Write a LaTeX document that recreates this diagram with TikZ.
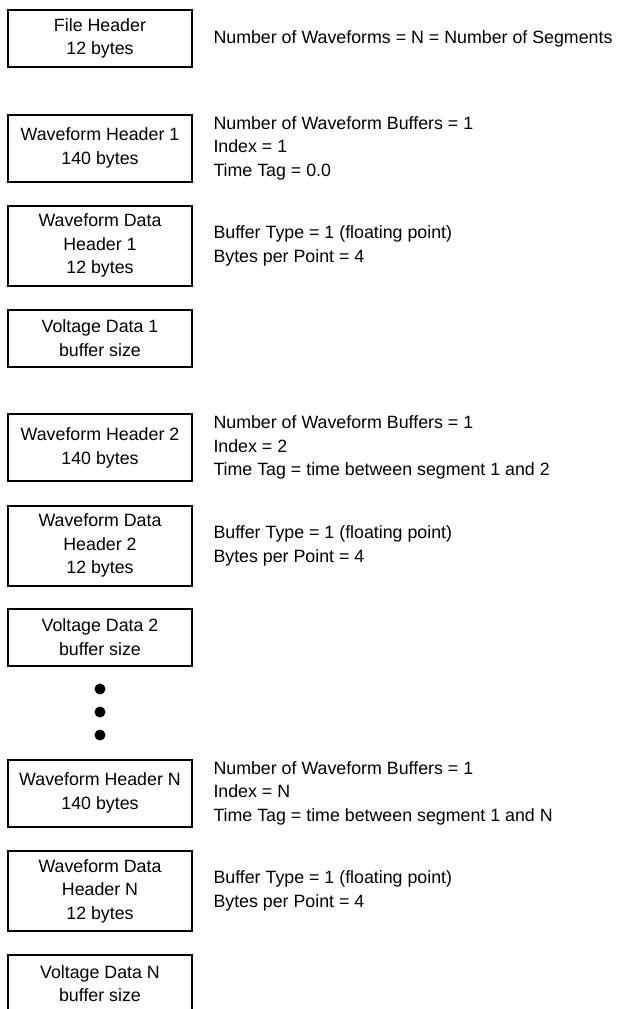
\documentclass[tikz,border=0pt]{standalone}
\usepackage{fontspec}
\setmainfont{Liberation Sans}
\tikzset{
  every node/.style={font=\fontsize{17.8}{23.5}\selectfont, inner sep=0pt, outer sep=0pt},
  blk/.style={draw, line width=2pt, minimum width=184pt, align=center},
  fhbox/.style={blk, minimum height=57pt},
  whbox/.style={blk, minimum height=67pt},
  wdhbox/.style={blk, minimum height=80pt},
  vdbox/.style={blk, minimum height=57pt},
  info/.style={anchor=west, align=left},
  dotmark/.style={circle, fill=black, minimum size=11pt}
}
\begin{document}
\begin{tikzpicture}[x=1pt,y=-1pt]
\useasboundingbox (0,0) rectangle (620,1009);
% left column
\node[fhbox]  (fh)   at (100,38.5) {File Header\\12 bytes};
\node[whbox]  (wh1)  at (100,148)  {Waveform Header 1\\140 bytes};
\node[wdhbox] (wdh1) at (100,245.7) {Waveform Data\\Header 1\\12 bytes};
\node[vdbox]  (vd1)  at (100,338)  {Voltage Data 1\\buffer size};
\node[whbox]  (wh2)  at (100,447.7) {Waveform Header 2\\140 bytes};
\node[wdhbox] (wdh2) at (100,545.7) {Waveform Data\\Header 2\\12 bytes};
\node[vdbox]  (vd2)  at (100,637)  {Voltage Data 2\\buffer size};
\node[dotmark] (d1) at (100,689) {};
\node[dotmark] (d2) at (100,712) {};
\node[dotmark] (d3) at (100,735) {};
\node[whbox]  (whN)  at (100,793)  {Waveform Header N\\140 bytes};
\node[wdhbox] (wdhN) at (100,891)  {Waveform Data\\Header N\\12 bytes};
\node[blk, draw=none, minimum height=57pt] (vdN) at (100,983.8) {Voltage Data N\\buffer size};
\draw[line width=2pt] (vdN.south west) -- (vdN.north west) -- (vdN.north east) -- (vdN.south east);
% right column
\node[info] (tfh)   at (213.5,38.5) {Number of Waveforms = N = Number of Segments};
\node[info] (twh1)  at (213.5,148)  {Number of Waveform Buffers = 1\\Index = 1\\Time Tag = 0.0};
\node[info] (twdh1) at (213.5,245.7) {Buffer Type = 1 (floating point)\\Bytes per Point = 4};
\node[info] (twh2)  at (213.5,447.7) {Number of Waveform Buffers = 1\\Index = 2\\Time Tag = time between segment 1 and 2};
\node[info] (twdh2) at (213.5,545.7) {Buffer Type = 1 (floating point)\\Bytes per Point = 4};
\node[info] (twhN)  at (213.5,793)  {Number of Waveform Buffers = 1\\Index = N\\Time Tag = time between segment 1 and N};
\node[info] (twdhN) at (213.5,891)  {Buffer Type = 1 (floating point)\\Bytes per Point = 4};
\end{tikzpicture}
\end{document}
